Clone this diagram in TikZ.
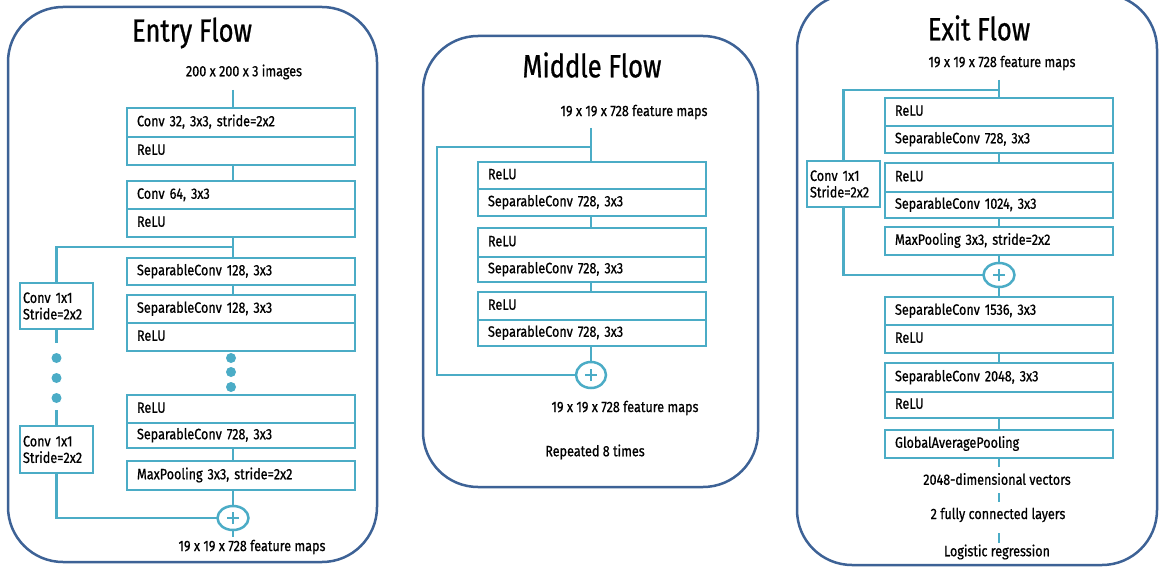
\documentclass[tikz,border=0pt]{standalone}
\usepackage{fontspec}
\setmainfont{Fira Sans}[FakeStretch=0.8]
\newfontfamily\layerfamily{Fira Sans}[FakeStretch=0.84, FakeBold=0.7]
\newfontfamily\headfamily{Fira Sans}[FakeStretch=0.8, FakeBold=0.8]
\usetikzlibrary{shapes.geometric,calc}
\definecolor{flowblue}{HTML}{3D6296}
\definecolor{layercyan}{HTML}{4BACC6}
\newcommand{\boxfont}{\layerfamily\fontsize{15}{16.5}\selectfont}
\newcommand{\titlefont}{\headfamily\fontsize{32}{38}\selectfont}
\tikzset{
  panel/.style={draw=flowblue, line width=2.5pt, rounded corners=55pt},
  layer/.style={draw=layercyan, line width=2.5pt, fill=white, rectangle,
    outer sep=0pt, inner xsep=10pt, inner ysep=0pt, text width=208pt,
    align=left, minimum height=28pt, anchor=north west, font=\boxfont,
    text height=10.5pt, text depth=3pt},
  shortcut/.style={draw=layercyan, line width=2.5pt, fill=white, rectangle,
    outer sep=0pt, inner xsep=3pt, inner ysep=0pt, text width=67pt,
    align=left, minimum height=46pt, anchor=north west, font=\boxfont},
  link/.style={draw=layercyan, line width=2.5pt},
  addop/.style={ellipse, draw=layercyan, line width=2.5pt, fill=white,
    outer sep=0pt, inner sep=0pt, minimum width=31pt, minimum height=24pt,
    path picture={\draw[layercyan, line width=1.2pt]
      ([xshift=-6pt]path picture bounding box.center) -- ([xshift=6pt]path picture bounding box.center)
      ([yshift=-6pt]path picture bounding box.center) -- ([yshift=6pt]path picture bounding box.center);}},
  dot/.style={circle, fill=layercyan, inner sep=0pt, minimum size=10pt},
  caption/.style={font=\boxfont, inner sep=1pt},
  heading/.style={font=\titlefont, inner sep=0pt},
}
\begin{document}
\begin{tikzpicture}[x=1pt, y=-1pt]
\useasboundingbox (0,0) rectangle (1159,567);
\clip (0,0) rectangle (1159,567);
\fill[white] (0,0) rectangle (1159,567);

% ---------------- panels ----------------
\draw[panel] (8,7) rectangle (377,562);
\draw[panel] (423,36) rectangle (758,487);
\draw[panel] (797,-6) rectangle (1157,565);

% ================= Entry flow =================
\node[heading] (etitle) at (192,33) {Entry Flow};
\node[caption] (ein) at (244,72) {200 x 200 x 3 images};
\coordinate (etop) at (233,90);
\coordinate (esplit) at (233,247);

\node[layer, minimum height=29pt] (e1a) at (127,108) {Conv 32, 3x3, stride=2x2};
\node[layer] (e1b) at (e1a.south west) {ReLU};
\node[layer] (e2a) at (127,181) {Conv 64, 3x3};
\node[layer] (e2b) at (e2a.south west) {ReLU};
\node[layer, minimum height=27pt] (e3) at (127,258) {SeparableConv 128, 3x3};
\node[layer] (e4a) at (127,295) {SeparableConv 128, 3x3};
\node[layer] (e4b) at (e4a.south west) {ReLU};
\node[layer] (e5a) at (127,395) {ReLU};
\node[layer, minimum height=25pt] (e5b) at (e5a.south west) {SeparableConv 728, 3x3};
\node[layer, minimum height=29pt] (e6) at (127,461) {MaxPooling 3x3, stride=2x2};
\node[addop] (eplus) at (233,518) {};
\node[caption] (eout) at (252,547) {19 x 19 x 728 feature maps};

\node[shortcut] (ec1) at (20,283) {Conv 1x1\\Stride=2x2};
\node[shortcut, minimum height=47pt] (ec2) at (20,426) {Conv 1x1\\Stride=2x2};

\node[dot] (ed1) at (231,358) {};
\node[dot] (ed2) at (231,372) {};
\node[dot] (ed3) at (231,387) {};
\node[dot] (ld1) at (56.5,358) {};
\node[dot] (ld2) at (56.5,378) {};
\node[dot] (ld3) at (56.5,398) {};

\draw[link] (etop) -- (etop |- e1a.north);
\draw[link] (e1b.south -| etop) -- (e2a.north -| etop);
\draw[link] (e2b.south -| etop) -- (e3.north -| etop);
\draw[link] (esplit) -| (ec1.north);
\draw[link] (e3.south -| etop) -- (e4a.north -| etop);
\draw[link] (e5b.south -| etop) -- (e6.north -| etop);
\draw[link] (e6.south -| etop) -- (eplus.north);
\draw[link] (eplus.south) -- ++(0,7);
\draw[link] (ec1.south) -- ++(0,14);
\draw[link] (ec2.north) -- ++(0,-16);
\draw[link] (ec2.south) |- (eplus.west);

% ================= Middle flow =================
\node[heading] (mtitle) at (592,65) {Middle Flow};
\node[caption] (min) at (634,112) {19 x 19 x 728 feature maps};
\coordinate (mtop) at (591,128);
\coordinate (msplit) at (591,147);
\coordinate (mleft) at (437,147);

\node[layer, minimum height=27pt] (m1a) at (478,162) {ReLU};
\node[layer, minimum height=27pt] (m1b) at (m1a.south west) {SeparableConv 728, 3x3};
\node[layer, minimum height=29pt] (m2a) at (478,228) {ReLU};
\node[layer, minimum height=25pt] (m2b) at (m2a.south west) {SeparableConv 728, 3x3};
\node[layer] (m3a) at (478,292) {ReLU};
\node[layer, minimum height=26pt] (m3b) at (m3a.south west) {SeparableConv 728, 3x3};
\node[addop, minimum width=30pt, minimum height=26pt] (mplus) at (591,375) {};
\node[caption] (mout) at (625,408) {19 x 19 x 728 feature maps};
\node[caption] (mrep) at (595,452) {Repeated 8 times};

\draw[link] (mtop) -- (mtop |- m1a.north);
\draw[link] (msplit) -- (mleft) |- (mplus.west);
\draw[link] (m1b.south -| mtop) -- (m2a.north -| mtop);
\draw[link] (m2b.south -| mtop) -- (m3a.north -| mtop);
\draw[link] (m3b.south -| mtop) -- (mplus.north);

% ================= Exit flow =================
\node[heading] (xtitle) at (979,28) {Exit Flow};
\node[caption] (xin) at (1002,63) {19 x 19 x 728 feature maps};
\coordinate (xtop) at (999,80);
\coordinate (xsplit) at (999,90);

\node[layer] (x1a) at (885,98) {ReLU};
\node[layer, minimum height=27pt] (x1b) at (x1a.south west) {SeparableConv 728, 3x3};
\node[layer, minimum height=29pt] (x2a) at (885,163) {ReLU};
\node[layer, minimum height=26pt] (x2b) at (x2a.south west) {SeparableConv 1024, 3x3};
\node[layer] (x3) at (885,227) {MaxPooling 3x3, stride=2x2};
\node[addop] (xplus) at (999,275) {};
\node[layer] (x4a) at (885,297) {SeparableConv 1536, 3x3};
\node[layer] (x4b) at (x4a.south west) {ReLU};
\node[layer, minimum height=29pt] (x5a) at (885,363) {SeparableConv 2048, 3x3};
\node[layer, minimum height=26pt] (x5b) at (x5a.south west) {ReLU};
\node[layer] (x6) at (885,430) {GlobalAveragePooling};
\node[shortcut] (xc) at (807,161) {Conv 1x1\\Stride=2x2};

\node[caption] (xv) at (997,479) {2048-dimensional vectors};
\node[caption] (xfc) at (998,515) {2 fully connected layers};
\node[caption] (xlr) at (997,552) {Logistic regression};

\draw[link] (xtop) -- (xtop |- x1a.north);
\draw[link] (xsplit) -| (xc.north);
\draw[link] (xc.south) |- (xplus.west);
\draw[link] (x1b.south -| xtop) -- (x2a.north -| xtop);
\draw[link] (x2b.south -| xtop) -- (x3.north -| xtop);
\draw[link] (x3.south -| xtop) -- (xplus.north);
\draw[link] (xplus.south) -- (x4a.north -| xtop);
\draw[link] (x4b.south -| xtop) -- (x5a.north -| xtop);
\draw[link] (x5b.south -| xtop) -- (x6.north -| xtop);
\draw[link] (x6.south -| xtop) -- ($(x6.south -| xtop)+(0,9)$);
\draw[link] ($(xv.south -| xtop)+(0,7)$) -- ($(xv.south -| xtop)+(0,16)$);
\draw[link] ($(xfc.south -| xtop)+(0,10)$) -- ($(xfc.south -| xtop)+(0,20)$);
\end{tikzpicture}
\end{document}
